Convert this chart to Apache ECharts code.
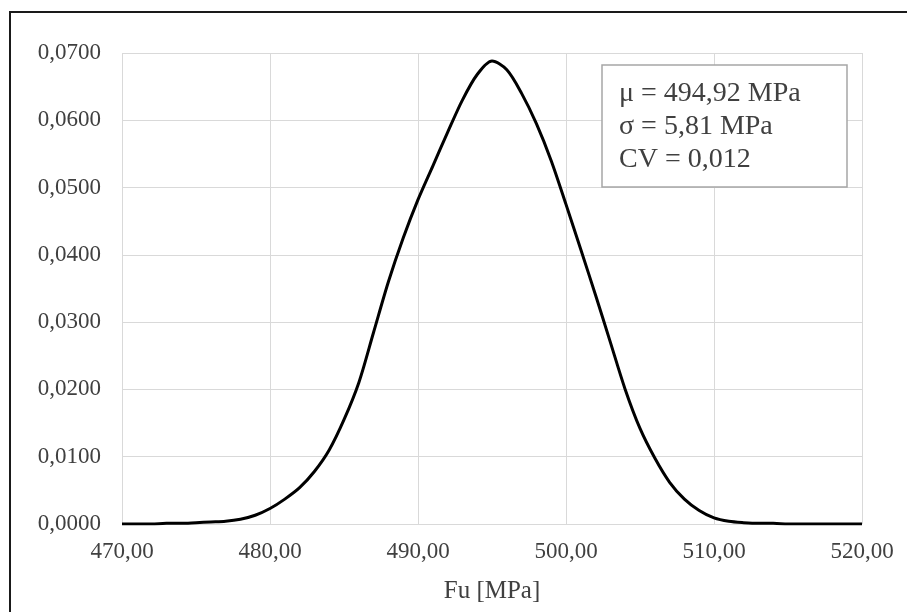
<!DOCTYPE html>
<html lang="en">
  <head>
    <meta charset="UTF-8" />
    <title>Fu distribution</title>
    <script src="https://cdn.jsdelivr.net/npm/echarts@6/dist/echarts.min.js"></script>
    <style>
      html, body { margin: 0; padding: 0; background: #fff; }
    </style>
  </head>
  <body>
    <div id="chart" style="width: 907px; height: 612px"></div>
    <script>
      // Fu [MPa] values and the density
      const fuValues = [
        470, 471, 472, 473, 474, 475, 476, 477, 478, 479,
        480, 481, 482, 483, 484, 485, 486, 487, 488, 489,
        490, 491, 492, 493, 494, 495, 496, 497, 498, 499,
        500, 501, 502, 503, 504, 505, 506, 507, 508, 509,
        510, 511, 512, 513, 514, 515, 516, 517, 518, 519, 520
      ]
      const density = [
        0.0000, 0.0000, 0.0000, 0.0001, 0.0001, 0.0002, 0.0003, 0.0004, 0.0007, 0.0013,
        0.0023, 0.0037, 0.0054, 0.0078, 0.0110, 0.0155, 0.0210, 0.0285, 0.0360, 0.0425,
        0.0482, 0.0532, 0.0582, 0.0630, 0.0668, 0.0688, 0.0675, 0.0640, 0.0595, 0.0540,
        0.0475, 0.0408, 0.0340, 0.0270, 0.0200, 0.0142, 0.0098, 0.0062, 0.0037, 0.0020,
        0.0009, 0.0004, 0.0002, 0.0001, 0.0001, 0.0000, 0.0000, 0.0000, 0.0000, 0.0000, 0.0000
      ]
      const statLines = ['μ = 494,92 MPa', 'σ = 5,81 MPa', 'CV = 0,012']

      const serif = '"Liberation Serif", "DejaVu Serif", serif'
      const textColor = '#404040'
      const gridColor = '#d9d9d9'

      const chart = echarts.init(document.getElementById('chart'))

      const option = {
        animation: false,
        backgroundColor: '#fff',
        grid: { left: 122, right: 45, top: 53, bottom: 88 },
        xAxis: {
          type: 'value',
          min: 470,
          max: 520,
          interval: 10,
          name: 'Fu [MPa]',
          nameLocation: 'middle',
          nameGap: 55,
          nameTextStyle: { fontFamily: serif, fontSize: 25, color: textColor },
          axisLine: { show: false },
          axisTick: { show: false },
          axisLabel: {
            margin: 16,
            fontFamily: serif,
            fontSize: 23,
            color: textColor,
            formatter: v => v.toFixed(2).replace('.', ',')
          },
          splitLine: { show: true, lineStyle: { color: gridColor, width: 1 } }
        },
        yAxis: {
          type: 'value',
          min: 0,
          max: 0.07,
          interval: 0.01,
          axisLine: { show: false },
          axisTick: { show: false },
          axisLabel: {
            margin: 21,
            fontFamily: serif,
            fontSize: 23,
            color: textColor,
            formatter: v => v.toFixed(4).replace('.', ',')
          },
          splitLine: { show: true, lineStyle: { color: gridColor, width: 1 } }
        },
        series: [
          {
            type: 'line',
            data: fuValues.map((x, i) => [x, density[i]]),
            smooth: 0.3,
            showSymbol: false,
            lineStyle: { color: '#000', width: 3 }
          }
        ],
        graphic: [
          {
            // outer chart frame (right and bottom sides fall outside the picture)
            type: 'rect',
            shape: { x: 10, y: 12, width: 1000, height: 700 },
            style: { fill: null, stroke: '#1a1a1a', lineWidth: 2 },
            silent: true
          },
          {
            type: 'rect',
            shape: { x: 602, y: 65, width: 245, height: 122 },
            style: { fill: '#fff', stroke: '#a6a6a6', lineWidth: 1.5 },
            z: 10
          },
          {
            type: 'text',
            x: 619,
            y: 77,
            z: 11,
            style: {
              text: statLines.join('\n'),
              font: '28px ' + serif,
              fill: textColor,
              lineHeight: 33
            }
          }
        ]
      }

      chart.setOption(option)
    </script>
  </body>
</html>
